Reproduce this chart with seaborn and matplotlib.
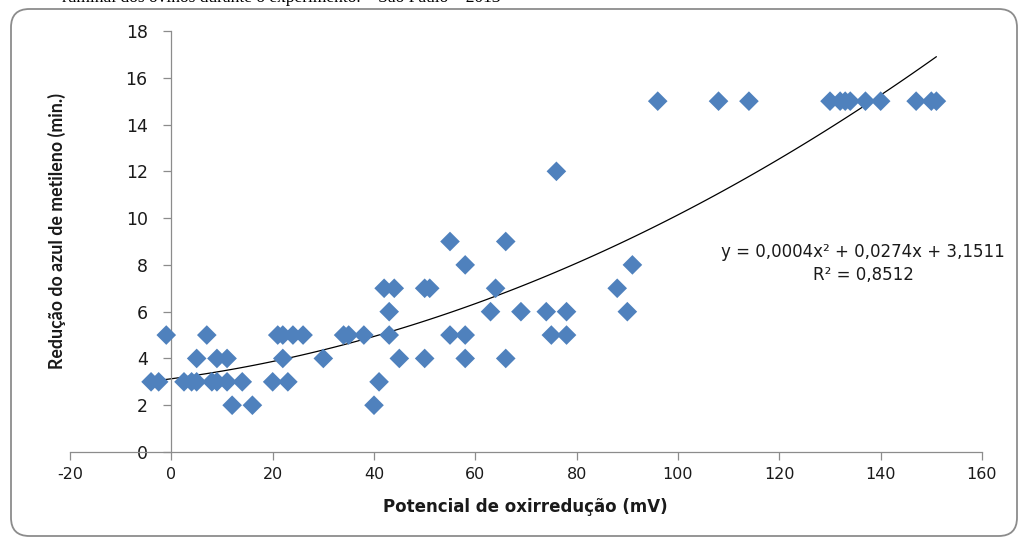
import numpy as np
import pandas as pd
import seaborn as sns
import matplotlib.pyplot as plt
from matplotlib.patches import FancyBboxPatch

# Redox potential (mV) and methylene blue reduction time (min.)
potencial = [-4, -2.5, 2.5, 4, 5, 8, 9, 11, 14, 20, 23, 41,
             5, 9, 11, 22, 30, 45, 50, 58, 66,
             -1, 7, 21, 22, 24, 26, 34, 35, 38, 43, 55, 58, 75, 78,
             12, 16, 40,
             43, 63, 69, 74, 78, 90,
             42, 44, 50, 51, 64, 88,
             58, 91,
             55, 66,
             76,
             96, 108, 114, 130, 132, 133, 134, 137, 140, 147, 150, 151]
reducao = [3, 3, 3, 3, 3, 3, 3, 3, 3, 3, 3, 3,
           4, 4, 4, 4, 4, 4, 4, 4, 4,
           5, 5, 5, 5, 5, 5, 5, 5, 5, 5, 5, 5, 5, 5,
           2, 2, 2,
           6, 6, 6, 6, 6, 6,
           7, 7, 7, 7, 7, 7,
           8, 8,
           9, 9,
           12,
           15, 15, 15, 15, 15, 15, 15, 15, 15, 15, 15, 15]

x_ticks = [-20, 0, 20, 40, 60, 80, 100, 120, 140, 160]
y_ticks = [0, 2, 4, 6, 8, 10, 12, 14, 16, 18]

equacao = "y = 0,0004x² + 0,0274x + 3,1511"
r2_texto = "R² = 0,8512"
legenda_topo = "ruminal dos ovinos durante o experimento. – São Paulo – 2013"

df = pd.DataFrame({"potencial": potencial, "reducao": reducao})

sns.set_style("white")
plt.rcParams["font.family"] = ["DejaVu Sans"]

fig = plt.figure(figsize=(10.19, 5.38), dpi=100)
ax = fig.add_axes([70 / 1019, 1 - 452 / 538, (982 - 70) / 1019, (452 - 31) / 538])

# rounded chart-area frame
frame = FancyBboxPatch((11 / 1019, 2 / 538), 1006 / 1019, 527 / 538,
                       boxstyle="round,pad=0,rounding_size=0.018",
                       transform=fig.transFigure, fill=False,
                       edgecolor="#8c8c8c", linewidth=1.3, zorder=0,
                       mutation_aspect=1019 / 538)
fig.patches.append(frame)

fig.text(62 / 1019, 1 - 2.5 / 538, legenda_topo, family="Liberation Serif",
         fontsize=12.5, va="baseline", ha="left", color="black")

sns.regplot(data=df, x="potencial", y="reducao", order=2, ci=None,
            scatter=False, truncate=True, ax=ax,
            line_kws={"color": "black", "linewidth": 0.9})
sns.scatterplot(data=df, x="potencial", y="reducao", marker="D", s=100,
                color="#4F81BD", edgecolor="none", ax=ax, zorder=3)

ax.set_xlim(-20, 160)
ax.set_ylim(0, 18)
ax.set_xticks(x_ticks)
ax.set_yticks(y_ticks)
ax.set_xticklabels([str(v) for v in x_ticks])
ax.set_yticklabels([str(v) for v in y_ticks])

for side in ["top", "right"]:
    ax.spines[side].set_visible(False)
ax.spines["left"].set_position(("data", 0))
ax.spines["bottom"].set_position(("data", 0))
for side in ["left", "bottom"]:
    ax.spines[side].set_color("#8c8c8c")
    ax.spines[side].set_linewidth(0.9)

ax.tick_params(axis="y", direction="out", length=6, width=0.9, color="#8c8c8c",
               pad=11, labelsize=12.5, labelcolor="#1a1a1a", left=True)
ax.tick_params(axis="x", direction="out", length=6, width=0.9, color="#8c8c8c",
               pad=5, labelsize=11.5, labelcolor="#1a1a1a", bottom=True)

ax.set_xlabel("")
ax.set_ylabel("")
fig.text(525 / 1019, 1 - 507 / 538, "Potencial de oxirredução (mV)",
         ha="center", va="center", fontsize=12, fontweight="bold", color="#1a1a1a")
fig.text(57 / 1019, 1 - 231 / 538, "Redução do azul de metileno (min.)",
         ha="center", va="center", rotation=90, fontsize=12.8,
         fontweight="bold", color="#1a1a1a", family=["Lato", "DejaVu Sans"])

fig.text(863 / 1019, 1 - 263.5 / 538, equacao + "\n" + r2_texto,
         ha="center", va="center", multialignment="center",
         fontsize=12, color="#1a1a1a", linespacing=1.3)

fig.savefig("out.png", dpi=100)
